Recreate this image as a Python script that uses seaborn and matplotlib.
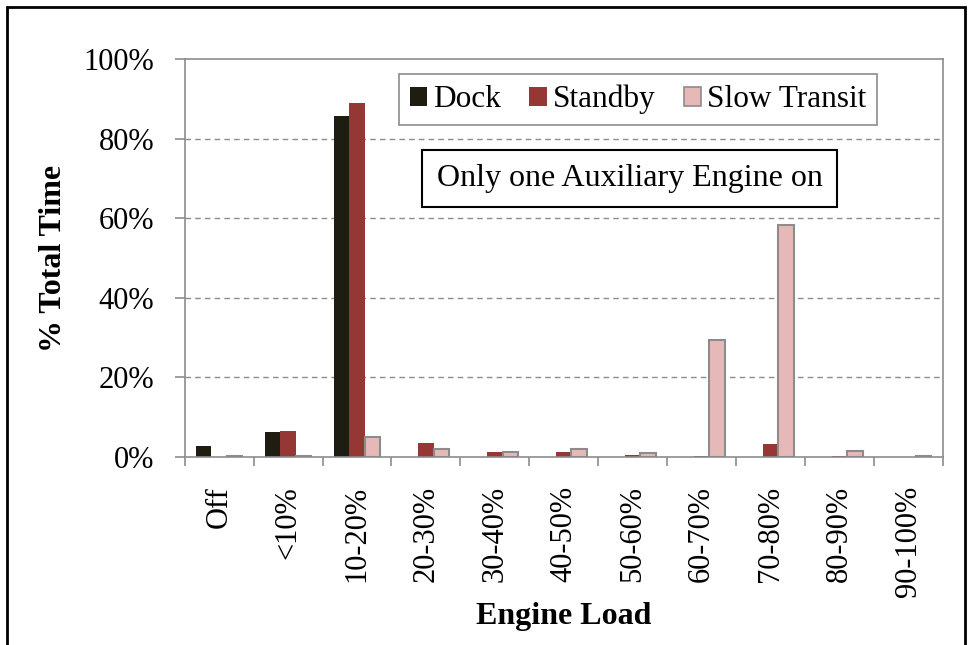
import matplotlib
matplotlib.use("Agg")
import matplotlib.pyplot as plt
import seaborn as sns
import pandas as pd
from matplotlib.patches import Rectangle
from matplotlib.ticker import FuncFormatter

categories = ["Off", "<10%", "10-20%", "20-30%", "30-40%", "40-50%", "50-60%",
              "60-70%", "70-80%", "80-90%", "90-100%"]
series_names = ["Dock", "Standby", "Slow Transit"]
dock = [2.8, 6.2, 85.8, 0, 0, 0, 0, 0, 0, 0, 0]
standby = [0, 6.5, 89.0, 3.5, 1.3, 1.2, 0.5, 0.3, 3.3, 0.2, 0.1]
slow_transit = [0.2, 0.3, 4.9, 1.9, 1.2, 1.9, 1.1, 29.5, 58.3, 1.4, 0.3]
colors = ["#1f1c12", "#953735", "#e6b9b8"]

sns.set_style("white")
plt.rcParams['font.family'] = ['Liberation Serif', 'DejaVu Serif']
plt.rcParams['text.color'] = 'black'
plt.rcParams['axes.labelcolor'] = 'black'
plt.rcParams['xtick.labelcolor'] = 'black'
plt.rcParams['ytick.labelcolor'] = 'black'

rows = []
for name, vals in zip(series_names, [dock, standby, slow_transit]):
    for c, v in zip(categories, vals):
        rows.append({"Engine Load": c, "Series": name, "Value": v})
df = pd.DataFrame(rows)

fig = plt.figure(figsize=(9.72, 6.45), dpi=100)
ax = fig.add_axes([0.190, 0.2915, 0.780, 0.617])

sns.barplot(data=df, x="Engine Load", y="Value", hue="Series", order=categories,
            hue_order=series_names, palette=colors, width=0.67, gap=0,
            saturation=1, ax=ax, legend=False, linewidth=0)

# edges for Slow Transit bars
for p in ax.patches:
    fc = p.get_facecolor()
    if fc[0] > 0.8:
        p.set_edgecolor("#8c8c8c")
        p.set_linewidth(1.5)

ax.set_xlim(-0.5, len(categories) - 0.5)
ax.set_ylim(0, 100)
ax.set_yticks([0, 20, 40, 60, 80, 100])
ax.yaxis.set_major_formatter(FuncFormatter(lambda v, p: f"{int(v)}%"))
ax.set_xticks(range(len(categories)))
ax.set_xticklabels(categories, rotation=90, fontsize=22)
ax.tick_params(axis='y', labelsize=22, length=7, width=1.2, color="#8c8c8c",
               labelcolor='black', direction='out', left=True, pad=15)
ax.tick_params(axis='x', length=0, pad=21, labelcolor='black')
# minor ticks at category boundaries
ax.set_xticks([i - 0.5 for i in range(len(categories) + 1)], minor=True)
ax.tick_params(axis='x', which='minor', length=6.5, width=1.2, color="#8c8c8c",
               direction='out', bottom=True)

for y in [20, 40, 60, 80]:
    ax.axhline(y, color="#8c8c8c", linestyle=(0, (4, 3)), linewidth=1.0, zorder=0)

for s in ax.spines.values():
    s.set_visible(True)
    s.set_color("#8c8c8c")
    s.set_linewidth(1.2)

ax.set_xlabel("Engine Load", fontsize=23, fontweight='bold', labelpad=3, color='black')
ax.set_ylabel("% Total Time", fontsize=23, fontweight='bold', labelpad=11, color='black')

# legend
handles = [Rectangle((0, 0), 1, 1, facecolor=colors[0], edgecolor="none"),
           Rectangle((0, 0), 1, 1, facecolor=colors[1], edgecolor="none"),
           Rectangle((0, 0), 1, 1, facecolor=colors[2], edgecolor="#8c8c8c", linewidth=1.2)]
leg = ax.legend(handles, series_names, ncol=3, loc='center',
                bbox_to_anchor=(0.598, 0.898), fontsize=22.5, frameon=True,
                fancybox=False, edgecolor="#8c8c8c", framealpha=1,
                handlelength=0.55, handleheight=0.55, handletextpad=0.2,
                columnspacing=0.9, borderpad=0.35, borderaxespad=0)
leg.get_frame().set_linewidth(1.2)
for t in leg.get_texts():
    t.set_color('black')

ax.text(0.587, 0.70, "Only one Auxiliary Engine on", transform=ax.transAxes,
        ha='center', va='center', fontsize=23, color='black',
        bbox=dict(boxstyle='square,pad=0.45', facecolor='white', edgecolor='black',
                  linewidth=1.5))

# outer frame
fig.patches.append(Rectangle((7 / 972, -0.05), (965 - 7) / 972, 1 - 7 / 645 + 0.05,
                             transform=fig.transFigure, fill=False,
                             edgecolor='black', linewidth=2.0))

fig.savefig("out.png", dpi=100)
